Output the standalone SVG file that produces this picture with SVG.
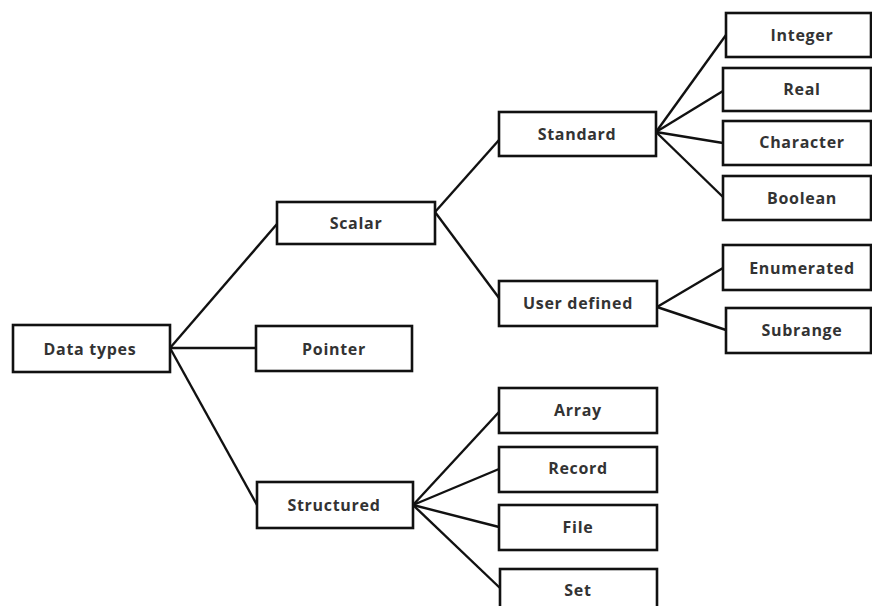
<svg xmlns="http://www.w3.org/2000/svg" width="872" height="606" viewBox="0 0 872 606">
<style>
.box{fill:#fff;stroke:#111;stroke-width:2.6}
.lbl{font-family:"Open Sans","Liberation Sans",sans-serif;font-weight:bold;font-size:16px;letter-spacing:0.7px;fill:#333;text-anchor:middle;dominant-baseline:central}
.ln{stroke:#111;stroke-width:2.4;fill:none}
</style>
<rect width="872" height="606" fill="#fff"/>
<g id="connectors">
<line class="ln" x1="170" y1="348" x2="277" y2="224"/>
<line class="ln" x1="170" y1="348" x2="256" y2="348"/>
<line class="ln" x1="170" y1="348" x2="257" y2="505"/>
<line class="ln" x1="435" y1="212" x2="499" y2="140"/>
<line class="ln" x1="435" y1="212" x2="499" y2="298"/>
<line class="ln" x1="656" y1="132" x2="726" y2="35"/>
<line class="ln" x1="656" y1="132" x2="723" y2="91"/>
<line class="ln" x1="656" y1="132" x2="723" y2="143"/>
<line class="ln" x1="656" y1="132" x2="723" y2="197"/>
<line class="ln" x1="657" y1="307" x2="723" y2="268"/>
<line class="ln" x1="657" y1="307" x2="726" y2="330"/>
<line class="ln" x1="413" y1="505" x2="499" y2="412"/>
<line class="ln" x1="413" y1="505" x2="499" y2="469"/>
<line class="ln" x1="413" y1="505" x2="499" y2="527"/>
<line class="ln" x1="413" y1="505" x2="500" y2="588"/>
</g>
<g id="datatypes"><rect class="box" x="13" y="325" width="157" height="47"/><text class="lbl" x="90" y="349">Data types</text></g>
<g id="pointer"><rect class="box" x="256" y="326" width="156" height="45"/><text class="lbl" x="334" y="349">Pointer</text></g>
<g id="scalar"><rect class="box" x="277" y="202" width="158" height="42"/><text class="lbl" x="356" y="223">Scalar</text></g>
<g id="structured"><rect class="box" x="257" y="482" width="156" height="46"/><text class="lbl" x="334" y="505">Structured</text></g>
<g id="standard"><rect class="box" x="499" y="112" width="157" height="44"/><text class="lbl" x="577" y="134">Standard</text></g>
<g id="userdefined"><rect class="box" x="499" y="281" width="158" height="45"/><text class="lbl" x="578" y="303">User defined</text></g>
<g id="integer"><rect class="box" x="726" y="13" width="145" height="44"/><text class="lbl" x="802" y="35">Integer</text></g>
<g id="real"><rect class="box" x="723" y="68" width="148" height="43"/><text class="lbl" x="802" y="89">Real</text></g>
<g id="character"><rect class="box" x="723" y="121" width="148" height="44"/><text class="lbl" x="802" y="142">Character</text></g>
<g id="boolean"><rect class="box" x="723" y="176" width="148" height="44"/><text class="lbl" x="802" y="198">Boolean</text></g>
<g id="enumerated"><rect class="box" x="723" y="245" width="148" height="45"/><text class="lbl" x="802" y="268">Enumerated</text></g>
<g id="subrange"><rect class="box" x="726" y="308" width="145" height="45"/><text class="lbl" x="802" y="330">Subrange</text></g>
<g id="array"><rect class="box" x="499" y="388" width="158" height="45"/><text class="lbl" x="578" y="410">Array</text></g>
<g id="record"><rect class="box" x="499" y="447" width="158" height="45"/><text class="lbl" x="578" y="468">Record</text></g>
<g id="file"><rect class="box" x="499" y="505" width="158" height="45"/><text class="lbl" x="578" y="527">File</text></g>
<g id="set"><rect class="box" x="500" y="569" width="157" height="45"/><text class="lbl" x="578" y="590">Set</text></g>
</svg>
